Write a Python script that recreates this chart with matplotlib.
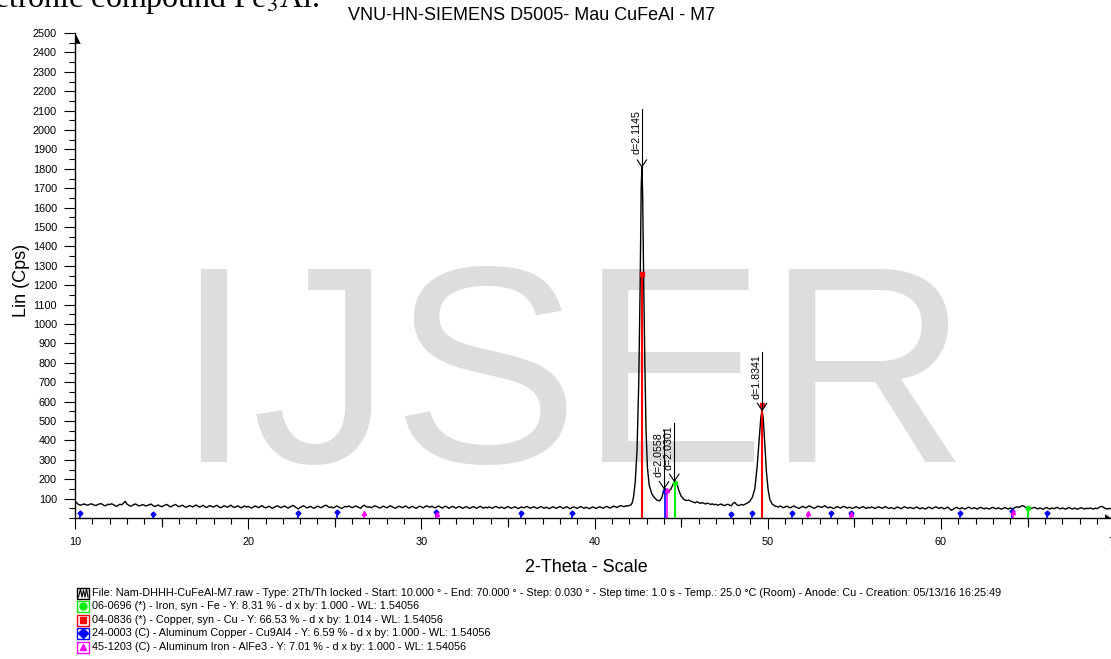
import matplotlib
matplotlib.use('Agg')
import matplotlib.pyplot as plt
import numpy as np
from matplotlib.patches import Rectangle
from matplotlib.lines import Line2D
from matplotlib.ticker import MultipleLocator

plt.rcParams['font.family'] = ['Liberation Sans', 'DejaVu Sans']
plt.rcParams['mathtext.fontset'] = 'stix'

W, H = 1111, 659

# --- scan (Lin counts), background parts on a 0.1 deg grid ---
step = 0.1
bg1_start = 10.0
bg1 = [88, 78, 70, 66, 69, 72, 70, 66, 68, 73, 71, 67, 64, 69, 72, 74, 70, 63, 65, 71,
       69, 73, 70, 64, 60, 66, 71, 68, 77, 86, 72, 66, 61, 64, 70, 72, 67, 62, 65, 69,
       66, 62, 65, 69, 72, 64, 59, 63, 67, 62, 58, 63, 66, 70, 64, 57, 61, 66, 70, 63,
       58, 62, 66, 60, 55, 59, 64, 61, 57, 63, 67, 60, 56, 61, 65, 58, 54, 60, 64, 59,
       56, 62, 65, 58, 53, 57, 63, 60, 55, 61, 66, 59, 54, 58, 63, 57, 52, 58, 62, 56,
       60, 55, 51, 57, 62, 58, 53, 59, 64, 57, 52, 56, 61, 55, 50, 55, 60, 63, 57, 53,
       58, 62, 56, 51, 56, 61, 65, 58, 52, 47, 54, 59, 63, 57, 52, 56, 60, 54, 50, 56,
       61, 57, 53, 58, 63, 66, 59, 54, 57, 52, 56, 62, 58, 53, 49, 55, 60, 57, 62, 58,
       53, 57, 62, 58, 54, 50, 61, 66, 60, 55, 58, 53, 57, 63, 60, 55, 51, 56, 61, 57,
       52, 58, 63, 59, 54, 50, 56, 61, 57, 53, 58, 62, 55, 51, 57, 60, 54, 50, 56, 61,
       57, 52, 58, 63, 59, 55, 61, 56, 52, 58, 62, 56, 51, 57, 61, 55, 50, 56, 60, 55,
       51, 56, 60, 54, 50, 55, 59, 53, 49, 55, 59, 54, 50, 56, 60, 55, 51, 56, 52, 57,
       54, 50, 56, 60, 55, 51, 57, 53, 49, 55, 59, 54, 50, 54, 58, 53, 48, 54, 57, 52,
       56, 60, 54, 50, 55, 58, 53, 49, 55, 59, 54, 50, 56, 52, 48, 54, 58, 53, 50, 55,
       59, 54, 49, 55, 58, 52, 48, 54, 57, 53, 49, 55, 59, 54, 50, 56, 52, 48, 53, 57,
       53, 49, 55, 58, 54, 50, 56, 60, 55, 51, 57, 61, 58, 54, 60, 64, 61, 58, 63, 62]
bg2_start = 45.7
bg2 = [82, 78, 84, 80, 75, 79, 76, 72, 77, 74, 70, 73, 68, 71, 66, 69,
       72, 67, 64, 68, 71, 66, 63, 76, 80, 69, 64, 67, 70, 66, 72, 76]
bg3_start = 50.5
bg3 = [60, 56, 62, 58, 53, 57, 61, 56, 52, 58, 62, 57, 53, 49, 55, 60, 56, 52, 58, 63,
       57, 53, 50, 56, 61, 58, 54, 59, 63, 56, 52, 57, 53, 48, 54, 59, 55, 51, 57, 60,
       55, 51, 56, 52, 49, 54, 58, 54, 50, 55, 59, 53, 49, 55, 52, 57, 53, 49, 54, 58,
       54, 50, 55, 59, 53, 49, 54, 51, 47, 53, 57, 52, 48, 54, 58, 53, 50, 55, 52, 48,
       53, 57, 51, 47, 53, 50, 46, 52, 56, 52, 48, 54, 58, 53, 49, 55, 51, 47, 52, 56,
       47, 40, 45, 51, 55, 50, 47, 53, 49, 46, 52, 56, 51, 48, 53, 50, 46, 52, 55, 50,
       47, 52, 49, 46, 52, 55, 50, 47, 53, 49, 45, 51, 54, 49, 46, 52, 48, 50, 55, 58,
       54, 60, 64, 60, 54, 50, 53, 49, 52, 55, 50, 47, 52, 49, 45, 51, 54, 49, 46, 52,
       48, 51, 55, 50, 47, 52, 49, 45, 51, 54, 49, 46, 52, 48, 45, 50, 53, 49, 46, 51,
       48, 52, 49, 46, 51, 48, 53, 58, 60, 54, 49, 46, 50, 47, 51, 48]

# peak regions, denser points
pk_tt = [42.0, 42.1, 42.18, 42.25, 42.35, 42.45, 42.55, 42.63, 42.69, 42.73,
         42.77, 42.83, 42.9, 42.97, 43.05, 43.15, 43.3, 43.45, 43.6, 43.75,
         43.88, 43.97, 44.04, 44.12, 44.25, 44.4, 44.55, 44.65, 44.75, 44.85,
         45.0, 45.15, 45.3, 45.45, 45.6,
         48.95, 49.1, 49.25, 49.38, 49.5, 49.6, 49.67, 49.74, 49.82, 49.92,
         50.02, 50.12, 50.25, 50.4]
pk_cps = [64, 68, 80, 110, 190, 350, 700, 1200, 1700, 1810,
          1690, 1250, 800, 450, 260, 170, 125, 105, 92, 88,
          105, 135, 152, 148, 137, 148, 178, 192, 180, 145,
          112, 96, 90, 92, 85,
          85, 105, 150, 260, 400, 520, 555, 510, 390, 240,
          145, 95, 72, 62]

# labelled peaks
d_labels = ['d=2.1145', 'd=2.0558', 'd=2.0301', 'd=1.8341']
d_tt = [42.73, 44.01, 44.60, 49.67]
d_cps = [1810, 152, 190, 555]

# reference patterns (stick positions / heights)
fe_tt = [44.67, 65.02]
fe_h = [182, 52]
cu_tt = [42.73, 49.67]
cu_h = [1256, 580]
cual_tt = [10.27, 14.48, 22.9, 25.1, 30.84, 35.75, 38.71, 44.08, 47.88, 49.07,
           51.40, 53.65, 54.79, 61.1, 64.12, 66.12]
cual_h = [25, 20, 25, 33, 33, 25, 25, 140, 20, 28, 28, 25, 25, 25, 37, 25]
alfe_tt = [26.69, 30.88, 44.18, 52.34, 54.83, 64.18]
alfe_h = [28, 22, 145, 25, 22, 33]

legend_lines = [
    'File: Nam-DHHH-CuFeAl-M7.raw - Type: 2Th/Th locked - Start: 10.000 \u00b0 - End: 70.000 \u00b0 - Step: 0.030 \u00b0 - Step time: 1.0 s - Temp.: 25.0 \u00b0C (Room) - Anode: Cu - Creation: 05/13/16 16:25:49',
    '06-0696 (*) - Iron, syn - Fe - Y: 8.31 % - d x by: 1.000 - WL: 1.54056',
    '04-0836 (*) - Copper, syn - Cu - Y: 66.53 % - d x by: 1.014 - WL: 1.54056',
    '24-0003 (C) - Aluminum Copper - Cu9Al4 - Y: 6.59 % - d x by: 1.000 - WL: 1.54056',
    '45-1203 (C) - Aluminum Iron - AlFe3 - Y: 7.01 % - d x by: 1.000 - WL: 1.54056',
]

# build the scan
tt = np.concatenate([bg1_start + step * np.arange(len(bg1)),
                     bg2_start + step * np.arange(len(bg2)),
                     bg3_start + step * np.arange(len(bg3)),
                     np.array(pk_tt)])
cps = np.concatenate([bg1, bg2, bg3, pk_cps]).astype(float)
order = np.argsort(tt)
tt, cps = tt[order], cps[order]

fig = plt.figure(figsize=(W / 100, H / 100), dpi=100)
ax_left = 75 / W
ax_w = 60 * 17.32 / W
ax = fig.add_axes([ax_left, 1 - 518 / H, ax_w, (518 - 33) / H])
ax.set_facecolor('none')

# watermark + clipped text from the paper above the chart
fig.text(174 / W, 1 - 462 / H, 'IJSER', fontsize=202, color='#dddddd',
         ha='left', va='baseline', zorder=-1)
fig.text(-6 / W, 1 - 7 / H, r'etronic compound Fe$_3$Al.', fontsize=23,
         family='Liberation Serif', va='baseline')

ax.plot(tt, cps, color='black', lw=1.0, zorder=2)

ax.vlines(cu_tt, 0, cu_h, colors='#ff0000', lw=1.5, zorder=3)
ax.plot(cu_tt, cu_h, 's', color='#ff0000', ms=3, zorder=4)
ax.vlines(fe_tt, 0, fe_h, colors='#00ee00', lw=1.5, zorder=3)
ax.plot(fe_tt, fe_h, 'o', color='#00ee00', ms=3, zorder=4)
ax.vlines(cual_tt, 0, cual_h, colors='#0000ff', lw=1.2, zorder=3)
ax.plot(cual_tt, cual_h, 'D', color='#0000ff', ms=2.5, zorder=4)
ax.vlines(alfe_tt, 0, alfe_h, colors='#ff00ff', lw=1.2, zorder=3)
ax.plot(alfe_tt, alfe_h, '^', color='#ff00ff', ms=3, zorder=4)

# d-spacing markers
for lab, x, h in zip(d_labels, d_tt, d_cps):
    ax.plot([x, x], [h, h + 300], color='black', lw=0.8, zorder=5)
    ax.plot([x - 0.27, x, x + 0.27], [h + 36, h, h + 36], color='black', lw=0.8, zorder=5)
    ax.text(x - 0.05, h + 290, lab, rotation=90, ha='right', va='top', fontsize=7.7)

ax.set_xlim(10, 70)
ax.set_ylim(0, 2500)
for s in ['top', 'right']:
    ax.spines[s].set_visible(False)
for s in ['left', 'bottom']:
    ax.spines[s].set_linewidth(1.0)

ax.xaxis.set_major_locator(MultipleLocator(10))
ax.xaxis.set_minor_locator(MultipleLocator(1))
ax.set_yticks(np.arange(100, 2600, 100))
ax.yaxis.set_minor_locator(MultipleLocator(50))
ax.tick_params(axis='x', which='major', length=8, width=0.8, pad=5.5, labelsize=7.8)
ax.tick_params(axis='x', which='minor', length=4.3, width=0.8)
ax.tick_params(axis='y', which='major', length=8, width=0.8, pad=5, labelsize=7.8)
ax.tick_params(axis='y', which='minor', length=4.3, width=0.8)

sec = ax.secondary_xaxis('bottom')
sec.set_xticks([15, 25, 35, 45, 55, 65])
sec.tick_params(length=6.5, width=0.8, labelbottom=False)
sec.spines['bottom'].set_visible(False)

# axis arrow heads
ax.plot([0], [1], transform=ax.transAxes, clip_on=False, color='black',
        marker=[(0, 0), (0, -2), (1, -2)], ms=14, mew=0.5)
edge = (1.0 - ax_left) / ax_w
ax.plot([edge], [0], transform=ax.transAxes, clip_on=False, color='black',
        marker=[(0, 0), (-1, 0), (-1, 0.7)], ms=8.6, mew=0.5)

fig.text(531 / W, 1 - 15 / H, 'VNU-HN-SIEMENS D5005- Mau CuFeAl - M7',
         fontsize=13, ha='center', va='center')
fig.text(586 / W, 1 - 568 / H, '2-Theta - Scale', fontsize=13, ha='center', va='center')
fig.text(21 / W, 1 - 280 / H, 'Lin (Cps)', fontsize=13, rotation=90,
         ha='center', va='center')

# legend block under the chart
rows_y = [593, 606, 620, 633, 647]
box_cols = ['black', '#00ee00', '#ff0000', '#0000ff', '#ff00ff']
box_marks = [None, 'o', 's', 'D', '^']
for txt, yy, col, mk in zip(legend_lines, rows_y, box_cols, box_marks):
    fig.add_artist(Rectangle((77 / W, 1 - (yy + 5.5) / H), 12 / W, 11 / H,
                             transform=fig.transFigure, fill=False, ec=col, lw=1.0))
    if mk is None:
        fig.add_artist(Line2D(np.array([78.5, 80.5, 82, 83.5, 85, 86.5, 88]) / W,
                              1 - np.array([yy + 4, yy - 4, yy + 4, yy - 3, yy + 4, yy - 4, yy + 4]) / H,
                              transform=fig.transFigure, color='black', lw=0.8))
    else:
        fig.add_artist(Line2D([83 / W], [1 - yy / H], marker=mk, color=col,
                              ms=5, transform=fig.transFigure))
    fig.text(92 / W, 1 - yy / H, txt, fontsize=7.85, ha='left', va='center')

fig.savefig('out.png', dpi=100)
